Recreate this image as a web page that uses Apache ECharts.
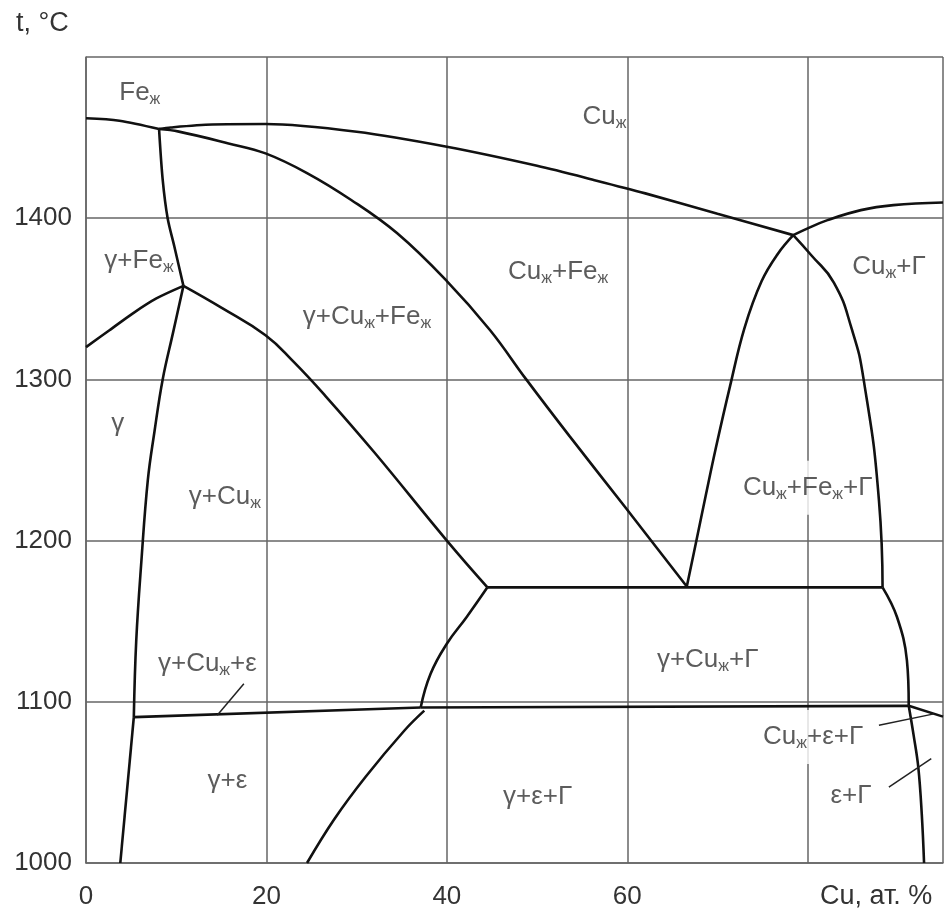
<!DOCTYPE html>
<html><head><meta charset="utf-8">
<script src="https://cdn.jsdelivr.net/npm/echarts@6/dist/echarts.min.js"></script>
<style>html,body{margin:0;padding:0;background:#fff}#c{width:946px;height:913px}</style>
</head><body><div id="c"></div>
<script>
// ---- tick labels ----
const xTicks = [0, 20, 40, 60];
const yTicks = [1000, 1100, 1200, 1300, 1400];

// ---- phase boundary curves [Cu at.%, t °C] ----
const feLiquidus = [[0,1462],[3.7,1460.5],[8.1,1455.3]];
const cuLiquidus = [[8.1,1455.3],[9.4,1456.3],[14,1458.1],[19.9,1458.4],[30,1453.6],[40,1444.3],[50,1432.5],[56.6,1423.3],[62,1415.4],[70,1402.7],[78.4,1389.5]];
const feLiquidGap = [[8.1,1455.3],[10.3,1453.7],[15.8,1446.4],[19.9,1440.2],[24.5,1428],[29.4,1411.3],[34.5,1390.6],[40,1361],[44.8,1330.5],[48.8,1300],[53.6,1264.8],[59.8,1220.5],[66.6,1171.5]];
const gammaFeSolidus = [[8.1,1455.3],[8.5,1424],[9.05,1400],[9.8,1382.3],[10.8,1358]];
const gammaSolvusUpper = [[10.8,1358],[9.65,1329],[8.5,1300],[7.6,1268],[6.85,1237.4],[6.15,1188],[5.57,1138],[5.3,1090.5]];
const gammaSolvusLower = [[5.3,1090.5],[3.8,1000]];
const gammaLeftLine = [[0,1320],[2.6,1330.5],[5.2,1341],[7.8,1350.2],[10.8,1358]];
const gammaCuLine = [[10.8,1358],[15,1344.5],[19.9,1327.4],[23,1311],[26.5,1290],[32,1254.5],[40,1200],[44.5,1171]];
const monotectic = [[44.5,1171],[88.3,1171]];
const gLeft = [[66.6,1171.5],[67.7,1201],[68.7,1228],[69.8,1257],[71.4,1296],[73,1332],[74.9,1361],[76.7,1378],[78.4,1389.5]];
const gTop = [[78.4,1389.5],[80,1393.7],[82.2,1398.8],[85.9,1405],[89.5,1408.1],[95,1409.7]];
const gRight = [[78.4,1389.5],[80.4,1377],[82.9,1360],[84.9,1331],[86.2,1300],[87.9,1225],[88.3,1171]];
const gSolvusUpper = [[88.3,1171],[89.9,1152.6],[91,1125.7],[91.2,1097.5]];
const gSolvusLower = [[91.2,1097.5],[91.75,1079],[92.26,1059.5],[92.65,1030],[92.9,1000]];
const eutLeft = [[5.3,1090.5],[37.1,1096.5]];
const eutMid = [[37.1,1096.5],[91.2,1097.5]];
const eutRight = [[91.2,1097.5],[95,1090.8]];
const gEpsUpper = [[37.1,1096.5],[38.2,1117.4],[40,1136],[42.2,1152.6],[44.5,1171]];
const gEpsLower = [[37.5,1094.5],[35.3,1082.2],[31,1053.5],[27.5,1027],[24.5,1000]];

// ---- leader lines ----
const leader1 = [[14.55,1091.6],[17.5,1111.2]];
const leader2 = [[87.9,1085.4],[94,1092.5]];
const leader3 = [[89.0,1047],[93.7,1064.7]];

// ---- region labels ----
const regionX = [3.52, 54.87, 1.87, 46.62, 23.86, 84.78, 2.64, 11.22, 72.65, 63.12, 7.81, 74.89, 13.31, 46.07, 82.36];
const regionY = [1477.7, 1462.8, 1373.4, 1366.5, 1338.6, 1369.6, 1272.2, 1226.9, 1232.5, 1125.7, 1123.2, 1077.9, 1050.6, 1040.6, 1041.2];
const regionText = [
  '{m|Fe}{s|ж}', '{m|Cu}{s|ж}', '{m|γ+Fe}{s|ж}', '{m|Cu}{s|ж}{m|+Fe}{s|ж}', '{m|γ+Cu}{s|ж}{m|+Fe}{s|ж}',
  '{m|Cu}{s|ж}{m|+Γ}', '{m|γ}', '{m|γ+Cu}{s|ж}', '{m|Cu}{s|ж}{m|+Fe}{s|ж}{m|+Γ}', '{m|γ+Cu}{s|ж}{m|+Γ}',
  '{m|γ+Cu}{s|ж}{m|+ε}', '{m|Cu}{s|ж}{m|+ε+Γ}', '{m|γ+ε}', '{m|γ+ε+Γ}', '{m|ε+Γ}'
];

const FONT = '"Liberation Sans", Arial, sans-serif';
const chart = echarts.init(document.getElementById('c'), null, {renderer: 'canvas'});

const curves = [
  [feLiquidus, 0.3], [cuLiquidus, 0.3], [feLiquidGap, 0.4], [gammaFeSolidus, 0.3],
  [gammaSolvusUpper, 0.4], [gammaSolvusLower, false], [gammaLeftLine, 0.3], [gammaCuLine, 0.45],
  [monotectic, false], [gLeft, 0.4], [gTop, 0.4], [gRight, 0.5], [gSolvusUpper, 0.4], [gSolvusLower, 0.4],
  [eutLeft, false], [eutMid, false], [eutRight, false], [gEpsUpper, 0.45], [gEpsLower, 0.4]
];
const series = curves.map(([d, sm]) => ({
  type: 'line', data: d, smooth: sm, symbol: 'none', z: 4, silent: true,
  lineStyle: {color: '#111', width: 2.6}
}));
[leader1, leader2, leader3].forEach(d => series.push({
  type: 'line', data: d, symbol: 'none', z: 4, silent: true, lineStyle: {color: '#222', width: 1.5}
}));
// labels whose white box interrupts a grid line in the original
const masked = new Set([8, 11]);
series.push({
  type: 'scatter', z: 3, silent: true, symbolSize: 1, itemStyle: {color: 'rgba(0,0,0,0)'},
  data: regionX.map((x, i) => ({
    value: [x, regionY[i]],
    label: masked.has(i) ? {backgroundColor: '#fff', padding: [12, 2]} : {padding: [0, 2]}
  })),
  label: {
    show: true, position: [0, 0], align: 'left', verticalAlign: 'middle',
    formatter: p => regionText[p.dataIndex],
    rich: {
      m: {fontFamily: FONT, fontSize: 26, color: '#333', lineHeight: 30},
      s: {fontFamily: FONT, fontSize: 16, color: '#333', lineHeight: 11, verticalAlign: 'bottom'}
    }
  }
});

chart.setOption({
  animation: false,
  backgroundColor: '#fff',
  grid: {left: 86, top: 57, width: 864, height: 806},
  xAxis: {
    type: 'value', min: 0, max: 95, interval: 20,
    axisLine: {show: true, lineStyle: {color: '#666', width: 1.5}},
    axisTick: {show: false},
    splitLine: {show: true, lineStyle: {color: '#666', width: 1.5}},
    axisLabel: {
      margin: 21, fontFamily: FONT, fontSize: 26, color: '#333',
      formatter: v => xTicks.includes(v) ? String(v) : ''
    }
  },
  yAxis: {
    type: 'value', min: 1000, max: 1500, interval: 100,
    axisLine: {show: true, lineStyle: {color: '#666', width: 1.5}},
    axisTick: {show: false},
    splitLine: {show: true, lineStyle: {color: '#666', width: 1.5}},
    axisLabel: {
      margin: 14, fontFamily: FONT, fontSize: 26, color: '#333',
      formatter: v => yTicks.includes(v) ? String(v) : ''
    }
  },
  graphic: [
    {type: 'text', x: 16, y: 24, style: {text: 't, °C', font: '27px ' + FONT, fill: '#333', align: 'left', verticalAlign: 'middle'}},
    {type: 'text', x: 820, y: 897, style: {text: 'Cu, ат. %', font: '27px ' + FONT, fill: '#333', align: 'left', verticalAlign: 'middle'}}
  ],
  series
});
</script>
</body></html>
